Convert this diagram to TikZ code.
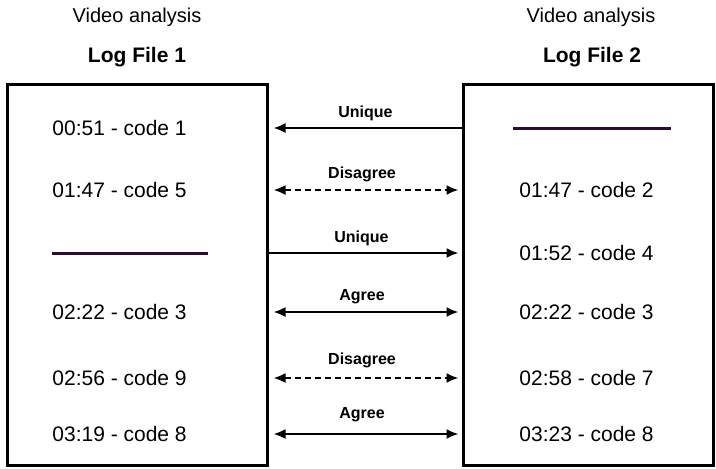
\documentclass[tikz,border=0pt]{standalone}
\usepackage{fontspec}
\setmainfont{Liberation Sans}
\usetikzlibrary{arrows.meta}
\definecolor{gapline}{HTML}{2B0A33}
\begin{document}
\begin{tikzpicture}[x=0.5pt, y=-0.5pt,
    logbox/.style={draw, line width=1.5pt, minimum height=190.5pt, inner sep=0pt},
    entry/.style={anchor=west, font=\fontsize{10.5}{13}\selectfont, inner sep=0pt},
    head/.style={font=\fontsize{10}{12}\selectfont},
    headb/.style={font=\fontsize{10.5}{12}\selectfont\bfseries},
    tag/.style={font=\fontsize{8}{9}\selectfont\bfseries},
    link/.style={line width=1pt, >={Latex[length=6pt,width=5pt]}},
    maybe/.style={link, dash pattern=on 3pt off 2pt},
    gap/.style={line width=1.5pt, gapline}]
    \useasboundingbox (0,0) rectangle (716,468);

    % Titles
    \node[head] (h1) at (137,17) {Video analysis};
    \node[headb] (f1) at (137,57) {Log File 1};
    \node[head] (h2) at (591,17) {Video analysis};
    \node[headb] (f2) at (592,57) {Log File 2};

    % Boxes
    \node[logbox, minimum width=130pt] (box1) at (137,274.5) {};
    \node[logbox, minimum width=125pt] (box2) at (588,274.5) {};

    % Log file 1
    \node[entry] (l1) at (52,128) {00:51 - code 1};
    \node[entry] (l2) at (52,190) {01:47 - code 5};
    \coordinate (l3) at (52,253);
    \draw[gap] (l3) -- (208,253);
    \node[entry] (l4) at (52,312) {02:22 - code 3};
    \node[entry] (l5) at (52,378) {02:56 - code 9};
    \node[entry] (l6) at (52,434) {03:19 - code 8};

    % Log file 2
    \coordinate (r1) at (513,128);
    \draw[gap] (r1) -- (671,128);
    \node[entry] (r2) at (519,190) {01:47 - code 2};
    \node[entry] (r3) at (519,253) {01:52 - code 4};
    \node[entry] (r4) at (519,312) {02:22 - code 3};
    \node[entry] (r5) at (519,378) {02:58 - code 7};
    \node[entry] (r6) at (519,434) {03:23 - code 8};

    % Comparaison
    \draw[link, <-] ([xshift=2.5pt]box1.east |- l1) -- (box2.west |- r1)
        node[tag, midway, above, xshift=-1pt] {Unique};
    \draw[maybe, <->] ([xshift=2.5pt]box1.east |- l2) -- ([xshift=-1.5pt]box2.west |- r2)
        node[tag, midway, above, xshift=-2pt] {Disagree};
    \draw[link, ->] (box1.east |- l3) -- ([xshift=-1.5pt]box2.west |- r3)
        node[tag, midway, above, xshift=-1pt] {Unique};
    \draw[link, <->] ([xshift=2.5pt]box1.east |- l4) -- ([xshift=-1.5pt]box2.west |- r4)
        node[tag, midway, above, xshift=-2pt] {Agree};
    \draw[maybe, <->] ([xshift=2.5pt]box1.east |- l5) -- ([xshift=-1.5pt]box2.west |- r5)
        node[tag, midway, above, xshift=-2pt, yshift=1pt] {Disagree};
    \draw[link, <->] ([xshift=2.5pt]box1.east |- l6) -- ([xshift=-1.5pt]box2.west |- r6)
        node[tag, midway, above, xshift=-2pt, yshift=2pt] {Agree};
\end{tikzpicture}
\end{document}
